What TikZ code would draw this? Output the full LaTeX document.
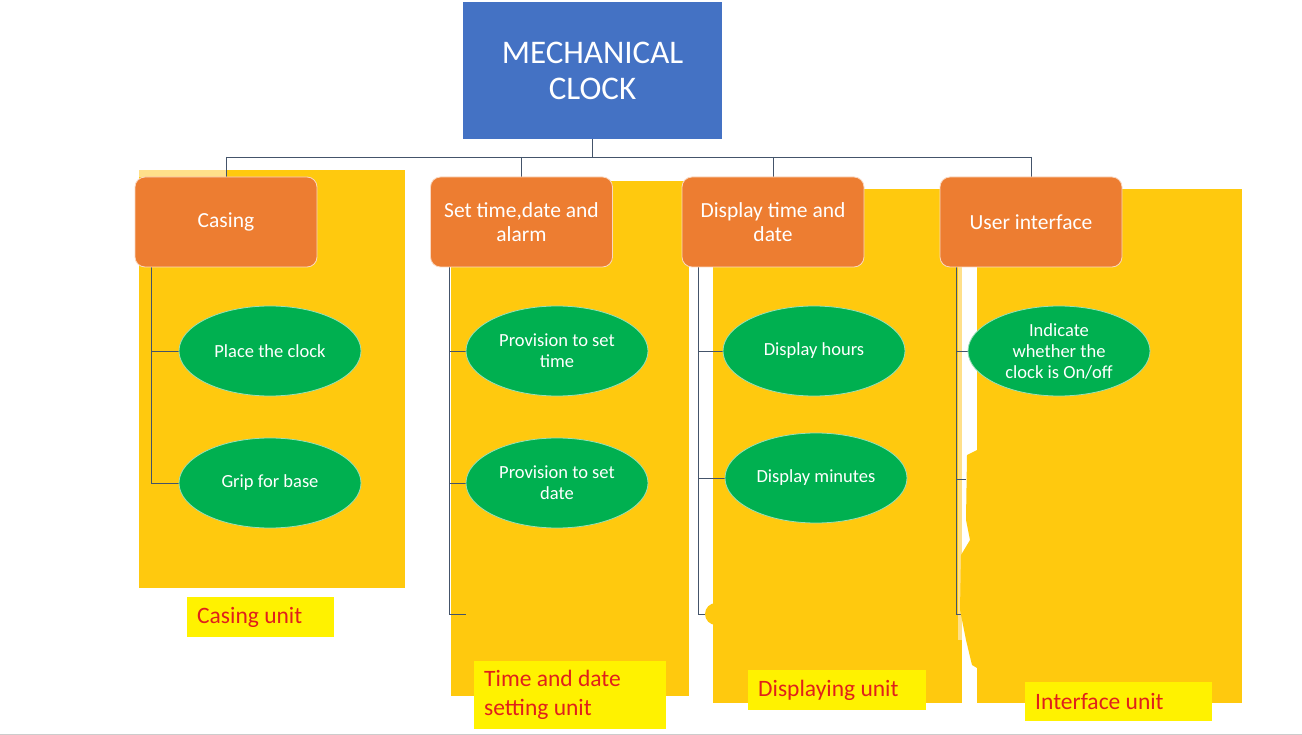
\documentclass[tikz,border=0pt]{standalone}
\usepackage{fontspec}
\setmainfont{Carlito}
\usetikzlibrary{shapes.geometric}
\definecolor{cblue}{HTML}{4472C4}
\definecolor{corange}{HTML}{ED7D31}
\definecolor{cgreen}{HTML}{00B050}
\definecolor{cyel}{HTML}{FFC90E}
\definecolor{cpale}{HTML}{FFE08A}
\definecolor{cline}{HTML}{44546A}
\definecolor{cred}{HTML}{E0201B}
\setlength{\parindent}{0pt}
\pgfdeclarelayer{back}
\pgfdeclarelayer{wires}
\pgfsetlayers{back,wires,main}
\begin{document}
\begin{tikzpicture}[x=1pt,y=-1pt,
  topbox/.style={rectangle, fill=cblue, minimum width=259pt, minimum height=137pt, text=white, align=center, font=\fontsize{33}{36}\selectfont},
  head/.style={rectangle, rounded corners=10pt, fill=corange, draw=white!70!corange, line width=0.8pt, minimum width=182pt, minimum height=90pt, text=white, align=center, font=\fontsize{21.5}{24}\selectfont},
  leaf/.style={ellipse, fill=cgreen, draw=white!60!cgreen, line width=0.8pt, minimum width=182pt, minimum height=90pt, inner sep=0pt, text=white, align=center, font=\fontsize{18.5}{21}\selectfont},
  unitlab/.style={rectangle, fill=yellow, anchor=north west, inner xsep=10pt, inner ysep=0pt, text=cred, font=\fontsize{23.5}{29}\selectfont, execute at begin node={\spaceskip=0pt\xspaceskip=0pt}},
  conn/.style={draw=cline, line width=0.9pt}]
\useasboundingbox (0,0) rectangle (1302,735);

% nodes
\node[topbox] (top) at (592.5,70.5) {MECHANICAL\\CLOCK};
\node[head] (h1) at (226,222) {Casing};
\node[head] (h2) at (521.5,222) {Set time,date and\\alarm};
\node[head] (h3) at (773,222) {Display time and\\date};
\node[head] (h4) at (1031,222) {User interface};

\node[leaf] (l11) at (270,351) {Place the clock};
\node[leaf] (l12) at (270,483) {Grip for base};
\node[leaf] (l21) at (557,351) {Provision to set\\time};
\node[leaf] (l22) at (557,483) {Provision to set\\date};
\node[leaf] (l31) at (814,351) {Display hours};
\node[leaf] (l32) at (816,478) {Display minutes};
\node[leaf] (l41) at (1059,351) {Indicate\\whether the\\clock is On/off};

\node[unitlab, minimum width=147pt, minimum height=40pt, text width=127pt] (u1) at (187,597) {Casing unit};
\node[unitlab, minimum width=192pt, minimum height=68pt, text width=172pt] (u2) at (474,661) {Time and date\\setting unit};
\node[unitlab, minimum width=178pt, minimum height=40pt, text width=158pt] (u3) at (748,670) {Displaying unit};
\node[unitlab, minimum width=187pt, minimum height=39pt, text width=167pt] (u4) at (1025,682) {Interface unit};

\coordinate (bus) at (592.5,157);
\coordinate (b1) at (226,157);
\coordinate (b2) at (521.5,157);
\coordinate (b3) at (773,157);
\coordinate (b4) at (1031,157);
\coordinate (e2) at (466,614);
\coordinate (e3) at (708,614);
\coordinate (e4) at (965,614);
\coordinate (e5) at (966,479);

\begin{pgfonlayer}{back}
\fill[white] (0,0) rectangle (1302,735);
\fill[cyel] (139,170) rectangle (405,588);
\fill[cpale] (139,170) rectangle (227,177);
\fill[cyel] (451,181) rectangle (689,696);
\fill[cyel] (713,189) rectangle (962,703);
\fill[cyel] (977,189) rectangle (1242,703);
\fill[cpale] (958,267) rectangle (962,640);
\draw[gray!40, line width=1pt] (0,734) -- (1302,734);
\end{pgfonlayer}

\begin{pgfonlayer}{wires}
\draw[conn] (top.south) -- (bus);
\draw[conn] (b1) -- (b4);
\draw[conn] (b1) -- (h1.north);
\draw[conn] (b2) -- (h2.north);
\draw[conn] (b3) -- (h3.north);
\draw[conn] (b4) -- (h4.north);
\draw[conn] (h1.south west) ++(17,0) |- (l11.west);
\draw[conn] (h1.south west) ++(17,0) |- (l12.west);
\draw[conn] (h2.south west) ++(19,0) |- (l21.west);
\draw[conn] (h2.south west) ++(19,0) |- (l22.west);
\draw[conn] (h2.south west) ++(19,0) |- (e2);
\draw[conn] (h3.south west) ++(17,0) |- (l31.west);
\draw[conn] (h3.south west) ++(17,0) |- (l32.west);
\draw[conn] (h3.south west) ++(17,0) |- (e3);
\draw[conn] (h4.south west) ++(17,0) |- (l41.west);
\draw[conn] (h4.south west) ++(17,0) |- (e4);
\draw[conn] (h4.south west) ++(17,0) |- (e5);
% erase blobs over the ends of the cut stubs
\fill[cyel] (716,614) circle (11);
\fill[cyel] (977,450) -- (967,455) -- (966,520) -- (970,540) -- (961,555) -- (960,610) -- (966,640) -- (972,665) -- (977,668) -- cycle;
\end{pgfonlayer}
\end{tikzpicture}
\end{document}
